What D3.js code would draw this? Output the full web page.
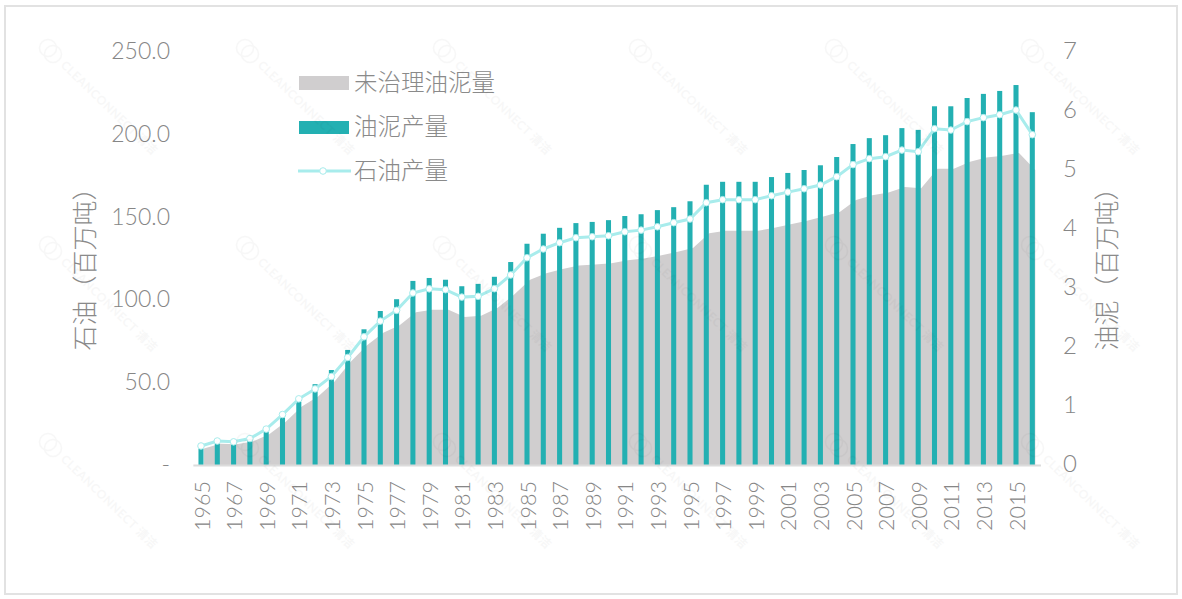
<!DOCTYPE html>
<html>
<head>
<meta charset="utf-8">
<script src="https://d3js.org/d3.v7.min.js"></script>
<style>
html,body{margin:0;padding:0;background:#fff;}
svg{display:block;}
text{font-family:"Lato","Noto Sans CJK SC",sans-serif;font-weight:300;fill:#8a8a8a;}
.cjk{font-family:"Noto Sans CJK SC",sans-serif;font-weight:300;}
</style>
</head>
<body>
<div class="canvas"></div>
<script>
/* values */
var years = d3.range(1965,2017);
var oilOutput = [11.5,14.5,14,16,21.7,30.5,40,46,53.5,65,77.5,87,93.5,104,106.5,106,101.5,102,106.6,114.9,125.3,130.6,134.4,137.4,138,138.6,141,142,144,146.5,148.7,158.6,160.4,160.4,160.4,162.8,165,167,169.3,174.3,181.6,185.2,186.4,190.4,189.4,203.3,202.5,207.6,210,211.8,214.6,199.7];
var sludgeOutput = [.28,.37,.36,.42,.56,.81,1.07,1.37,1.61,1.95,2.3,2.61,2.81,3.12,3.17,3.14,3.03,3.07,3.19,3.44,3.75,3.92,4.02,4.1,4.12,4.15,4.22,4.25,4.32,4.37,4.47,4.75,4.8,4.8,4.8,4.88,4.95,5,5.08,5.22,5.44,5.54,5.59,5.71,5.68,6.08,6.08,6.22,6.29,6.34,6.44,5.98];
var untreated = [.28,.36,.35,.4,.52,.73,.99,1.16,1.41,1.75,2.03,2.24,2.37,2.59,2.63,2.63,2.51,2.53,2.66,2.88,3.14,3.25,3.32,3.38,3.4,3.42,3.47,3.5,3.55,3.61,3.68,3.93,3.97,3.97,3.97,4.02,4.08,4.14,4.21,4.29,4.49,4.57,4.62,4.71,4.69,5.02,5.02,5.14,5.21,5.24,5.29,5];
var leftTicks = [0,50,100,150,200,250];
var rightTicks = [0,1,2,3,4,5,6,7];
var legendNames = ['未治理油泥量','油泥产量','石油产量'];

var grey = '#d0cecf', teal = '#23b0b2', aqua = '#a8ecec';

var canvas = d3.select('.canvas')
    .append('svg')
    .attr('width',1182)
    .attr('height',599);

// frame
canvas.append('rect')
    .attr('x',5).attr('y',6).attr('width',1172).attr('height',588)
    .attr('fill','none').attr('stroke','#e2e2e2').attr('stroke-width',2);

/* scales */
var x = d3.scaleBand().domain(years).range([192.85,1040.45]).paddingInner(.69).paddingOuter(.345);
var yLeft = d3.scaleLinear().domain([0,250]).range([465,51.5]);
var yRight = d3.scaleLinear().domain([0,7]).range([465,52]);
var cx = function(d){ return x(d)+x.bandwidth()/2; };

/* area, sits about 3px right of the bars */
var area = d3.area()
    .x(function(d,i){ return cx(years[i])+3; })
    .y0(yRight(0))
    .y1(function(d){ return yRight(d); });
canvas.append('path').datum(untreated).attr('d',area).attr('fill',grey);

/* bars */
canvas.selectAll('.bar').data(sludgeOutput).enter().append('rect')
    .attr('class','bar')
    .attr('x',function(d,i){ return x(years[i]); })
    .attr('width',x.bandwidth())
    .attr('y',function(d){ return yRight(d); })
    .attr('height',function(d){ return yRight(0)-yRight(d); })
    .attr('fill',teal);

/* line */
var line = d3.line()
    .x(function(d,i){ return cx(years[i]); })
    .y(function(d){ return yLeft(d); });
canvas.append('path').datum(oilOutput).attr('d',line)
    .attr('fill','none').attr('stroke',aqua).attr('stroke-width',3);
canvas.selectAll('.dot').data(oilOutput).enter().append('circle')
    .attr('class','dot')
    .attr('cx',function(d,i){ return cx(years[i]); })
    .attr('cy',function(d){ return yLeft(d); })
    .attr('r',3.3)
    .attr('fill','#fff').attr('stroke',aqua).attr('stroke-width',1);

/* axes */
var axisL = d3.axisLeft(yLeft).tickValues(leftTicks).tickSize(0).tickPadding(0)
    .tickFormat(function(d){ return d==0?'-':d3.format('.1f')(d); });
var gL = canvas.append('g').attr('transform','translate(170,0)').call(axisL);
gL.select('.domain').remove();
gL.selectAll('text').style('font-size','23px').style('font-family','Lato').style('font-weight','300').style('fill','#868686');

var axisR = d3.axisRight(yRight).tickValues(rightTicks).tickSize(0).tickPadding(0).tickFormat(d3.format('d'));
var gR = canvas.append('g').attr('transform','translate(1063,-1)').call(axisR);
gR.select('.domain').remove();
gR.selectAll('text').style('font-size','24px').style('font-family','Lato').style('font-weight','300').style('fill','#868686');

var axisB = d3.axisBottom(x).tickValues(years.filter(function(d){ return (d-1965)%2==0; })).tickSize(0).tickPadding(0);
var gB = canvas.append('g').attr('transform','translate(0,465)').call(axisB);
gB.select('.domain').attr('stroke','#dcdcdc').attr('stroke-width',2);
gB.selectAll('text')
    .attr('transform','translate(1,16) rotate(-90)')
    .attr('text-anchor','end').attr('dy','.35em').attr('y',0).attr('x',0)
    .style('font-size','21.5px').style('font-family','Lato').style('font-weight','300').style('fill','#868686');

/* axis titles */
canvas.append('text').attr('class','cjk')
    .attr('transform','translate(85,263) rotate(-90)')
    .attr('text-anchor','middle').attr('dy','.36em')
    .style('font-size','25px').text('石油（百万吨）');
canvas.append('text').attr('class','cjk')
    .attr('transform','translate(1107,263) rotate(-90)')
    .attr('text-anchor','middle').attr('dy','.36em')
    .style('font-size','25px').text('油泥（百万吨）');

/* legend */
canvas.append('rect').attr('x',299).attr('y',76).attr('width',50).attr('height',14).attr('fill',grey);
canvas.append('rect').attr('x',299).attr('y',121).attr('width',50).attr('height',13).attr('fill',teal);
canvas.append('line').attr('x1',298).attr('x2',351).attr('y1',171).attr('y2',171)
    .attr('stroke',aqua).attr('stroke-width',3);
canvas.append('circle').attr('cx',323).attr('cy',171).attr('r',3.3)
    .attr('fill','#fff').attr('stroke',aqua);
canvas.selectAll('.legend').data(legendNames).enter().append('text')
    .attr('class','legend cjk')
    .attr('x',354)
    .attr('y',function(d,i){ return 83+i*44; })
    .attr('dy','.36em')
    .style('font-size','23.5px')
    .text(function(d){ return d; });

/* watermark */
var wmX = [38,235,432,628,824,1020], wmY = [40,237,434];
wmY.forEach(function(ty){
    wmX.forEach(function(tx){
        var g = canvas.append('g').attr('transform','translate('+tx+','+ty+')').attr('opacity',.028);
        g.append('circle').attr('cx',10).attr('cy',8).attr('r',8.5).attr('fill','none').attr('stroke','#000').attr('stroke-width',1.5);
        g.append('circle').attr('cx',15).attr('cy',14).attr('r',8.5).attr('fill','none').attr('stroke','#000').attr('stroke-width',1.5);
        g.append('text')
            .attr('transform','translate(22,26) rotate(44)')
            .style('font-size','12px').style('font-weight','700').style('fill','#000').style('letter-spacing','.4px')
            .text('CLEANCONNECT 清洁');
    });
});
</script>
</body>
</html>
